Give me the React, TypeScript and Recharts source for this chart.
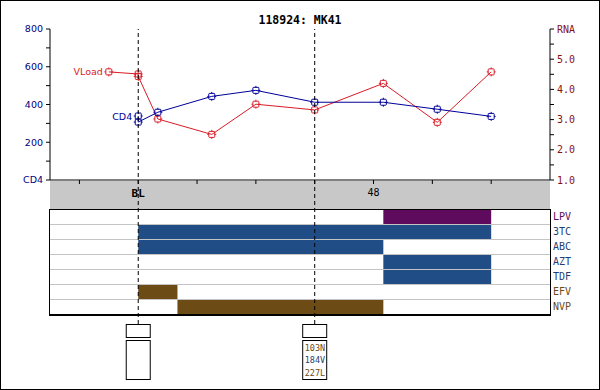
import React from 'react';
import {
  LineChart, Line, XAxis, YAxis, BarChart, Bar, Cell, ScatterChart, Scatter, ReferenceLine,
} from 'recharts';

// ---- data ----
const cd4Weeks = [0, 0, 4, 15, 24, 36, 50, 61, 72];
const cd4Values = [339, 307, 359, 443, 475, 412, 412, 375, 337];
const vlWeeks = [-6, 0, 0, 4, 15, 24, 36, 50, 61, 72];
const vlValues = [4.58, 4.51, 4.43, 3.02, 2.51, 3.51, 3.32, 4.2, 2.91, 4.58];

const drugNames = ['LPV', '3TC', 'ABC', 'AZT', 'TDF', 'EFV', 'NVP'];
const drugStart = [50, 0, 0, 50, 50, 0, 8];
const drugEnd = [72, 72, 50, 72, 72, 8, 50];
const drugClass = ['PI', 'NRTI', 'NRTI', 'NRTI', 'NRTI', 'NNRTI', 'NNRTI'];

const genoWeeks = [0, 36];
const genoMutations: string[][] = [[], ['103N', '184V', '227L']];
const genoMutClass: string[][] = [[], ['NNRTI', 'NRTI', 'NNRTI']];

const xTicks = [-12, 0, 12, 24, 36, 48, 60, 72];
const xTickLabels: Record<number, string> = { 0: 'BL', 48: '48' };
const cd4Ticks = [0, 100, 200, 300, 400, 500, 600, 700, 800];
const rnaTicks = [1, 1.5, 2, 2.5, 3, 3.5, 4, 4.5, 5, 5.5, 6];
const markerWeeks = [0, 36];

const title = '118924: MK41';

// ---- styles ----
const SANS = '"DejaVu Sans", Verdana, sans-serif';
const MONO = '"DejaVu Sans Mono", monospace';
const CD4_COLOR = '#000099';
const VL_COLOR = '#d81c26';
const LEFT_AXIS_COLOR = '#00007f';
const RIGHT_AXIS_COLOR = '#8b1010';
const classColor: Record<string, string> = {
  PI: '#5e0b5e',
  NRTI: '#214d87',
  NNRTI: '#6d4b14',
};
const classLabelColor: Record<string, string> = {
  PI: '#5e0b5e',
  NRTI: '#1f3f75',
  NNRTI: '#6d4b14',
};

const cd4Data = cd4Weeks.map((w, i) => ({ week: w, cd4: cd4Values[i] }));
const vlData = vlWeeks.map((w, i) => ({ week: w, rna: vlValues[i] }));
const drugData = drugNames.map((n, i) => ({
  name: n,
  range: [drugStart[i], drugEnd[i]],
  cls: drugClass[i],
}));
const genoData = genoWeeks.map((w, i) => ({
  week: w,
  y: 0,
  muts: genoMutations[i],
  cls: genoMutClass[i],
}));

const makeDot = (color: string, label: string) => (props: any) => {
  const { cx, cy, index } = props;
  if (cx == null || cy == null) return <g key={`d-${label}-${index}`} />;
  return (
    <g key={`d-${label}-${index}`}>
      <rect x={cx - 3} y={cy - 3} width={6} height={6} rx={0.8} fill="none" stroke={color} strokeWidth={1} />
      <line x1={cx} x2={cx} y1={cy - 4.5} y2={cy + 4.5} stroke={color} strokeWidth={1} strokeDasharray="1.5 6 1.5" />
      <line x1={cx - 4.5} x2={cx + 4.5} y1={cy} y2={cy} stroke={color} strokeWidth={1} strokeDasharray="1.5 6 1.5" />
      {index === 0 && (
        <text
          x={cx - 6}
          y={cy}
          textAnchor="end"
          dominantBaseline="central"
          fill={color}
          fontFamily={SANS}
          fontSize={9.5}
        >
          {label}
        </text>
      )}
    </g>
  );
};

const XTick = (props: any) => {
  const { x, y, payload } = props;
  const label = xTickLabels[payload.value];
  if (!label) return <g />;
  const bold = label === 'BL';
  return (
    <text
      x={x}
      y={y}
      dy="0.71em"
      textAnchor="middle"
      fill="#000"
      fontFamily={MONO}
      fontWeight={bold ? 'bold' : 'normal'}
      fontSize={bold ? 11 : 10}
    >
      {label}
    </text>
  );
};

const DrugTick = (props: any) => {
  const { x, y, payload } = props;
  const idx = drugNames.indexOf(payload.value);
  const color = classLabelColor[drugClass[idx]];
  return (
    <text x={x} y={y} textAnchor="start" dominantBaseline="central" fill={color} fontFamily={MONO} fontSize={10}>
      {payload.value}
    </text>
  );
};

const BarShape = (props: any) => {
  const { x, y, width, height, fill } = props;
  if (!width || !height) return <g />;
  const w = Math.abs(width);
  const x0 = width < 0 ? x + width : x;
  return <rect x={x0} y={y + 1} width={w} height={height - 1} fill={fill} />;
};

const RowBackground = (props: any) => {
  const { x, y, width, index } = props;
  return <line key={`bg-${index}`} x1={x} x2={x + width} y1={y + 0.5} y2={y + 0.5} stroke="#c4c4c4" strokeWidth={1} />;
};

const GenoShape = (props: any) => {
  const { cx, cy, payload } = props;
  const muts: string[] = payload.muts || [];
  const cls: string[] = payload.cls || [];
  return (
    <g>
      <rect x={cx - 12} y={cy + 0.5} width={24} height={13} fill="#fff" stroke="#000" strokeWidth={1} />
      <rect x={cx - 12} y={cy + 16.5} width={24} height={39} fill="#fff" stroke="#000" strokeWidth={1} />
      {muts.map((m, i) => (
        <text
          key={m}
          x={cx - 10}
          y={cy + 23.5 + i * 12.5}
          dominantBaseline="central"
          fill={classLabelColor[cls[i]]}
          fontFamily={MONO}
          fontSize={8.5}
        >
          {m}
        </text>
      ))}
    </g>
  );
};

const abs = (left: number, top: number): React.CSSProperties => ({ position: 'absolute', left, top });

export default function App() {
  return (
    <div style={{ position: 'absolute', left: 0, top: 0, width: 600, height: 390, background: '#fff', overflow: 'hidden' }}>
      {/* grey time band */}
      <div style={{ ...abs(50, 181), width: 500, height: 28, background: '#c8c8c8' }} />
      {/* title */}
      <div
        style={{
          ...abs(0, 13),
          width: 600,
          textAlign: 'center',
          fontFamily: MONO,
          fontWeight: 'bold',
          fontSize: 11.5,
          lineHeight: '14px',
          color: '#000',
        }}
      >
        {title}
      </div>
      {/* main chart */}
      <div style={abs(0, 0)}>
        <LineChart width={600} height={210} margin={{ top: 29, right: 0, bottom: 0, left: 0 }}>
          <XAxis
            xAxisId="b"
            type="number"
            dataKey="week"
            domain={[-18, 84]}
            ticks={xTicks}
            interval={0}
            allowDataOverflow
            height={30}
            tickSize={4}
            tickMargin={5}
            axisLine={{ stroke: '#000' }}
            tickLine={{ stroke: '#000' }}
            tick={<XTick />}
          />
          <XAxis
            xAxisId="t"
            orientation="top"
            type="number"
            domain={[-18, 84]}
            allowDataOverflow
            height={0}
            tick={false}
            tickLine={false}
            axisLine={{ stroke: '#000' }}
          />
          <YAxis
            yAxisId="cd4"
            orientation="left"
            width={50}
            type="number"
            domain={[0, 800]}
            ticks={cd4Ticks}
            interval={0}
            tickSize={4}
            tickMargin={3}
            axisLine={{ stroke: '#000' }}
            tickLine={{ stroke: '#000' }}
            tick={{ fill: LEFT_AXIS_COLOR, fontFamily: SANS, fontSize: 9.5 }}
            tickFormatter={(v: number) => (v === 0 ? 'CD4' : v % 200 === 0 ? String(v) : '')}
          />
          <YAxis
            yAxisId="rna"
            orientation="right"
            width={50}
            type="number"
            domain={[1, 6]}
            ticks={rnaTicks}
            interval={0}
            tickSize={4}
            tickMargin={3}
            axisLine={{ stroke: '#000' }}
            tickLine={{ stroke: '#000' }}
            tick={{ fill: RIGHT_AXIS_COLOR, fontFamily: MONO, fontSize: 10 }}
            tickFormatter={(v: number) => (v === 6 ? 'RNA' : Number.isInteger(v) ? v.toFixed(1) : '')}
          />
          <Line
            xAxisId="b"
            yAxisId="rna"
            data={vlData}
            dataKey="rna"
            type="linear"
            stroke={VL_COLOR}
            strokeWidth={1}
            dot={makeDot(VL_COLOR, 'VLoad')}
            activeDot={false}
            isAnimationActive={false}
          />
          <Line
            xAxisId="b"
            yAxisId="cd4"
            data={cd4Data}
            dataKey="cd4"
            type="linear"
            stroke={CD4_COLOR}
            strokeWidth={1}
            dot={makeDot(CD4_COLOR, 'CD4')}
            activeDot={false}
            isAnimationActive={false}
          />
        </LineChart>
      </div>
      {/* drug panel */}
      <div style={abs(0, 209)}>
        <BarChart
          width={600}
          height={105}
          layout="vertical"
          data={drugData}
          margin={{ top: 0, right: 0, bottom: 0, left: 50 }}
          barCategoryGap={0}
          barGap={0}
        >
          <XAxis type="number" domain={[-18, 84]} allowDataOverflow hide />
          <YAxis
            type="category"
            dataKey="name"
            orientation="right"
            width={50}
            interval={0}
            tickSize={0}
            tickMargin={3}
            axisLine={false}
            tickLine={false}
            tick={<DrugTick />}
          />
          <Bar
            dataKey="range"
            isAnimationActive={false}
            shape={<BarShape />}
            background={<RowBackground />}
          >
            {drugData.map((d) => (
              <Cell key={d.name} fill={classColor[d.cls]} />
            ))}
          </Bar>
        </BarChart>
      </div>
      {/* panel border */}
      <div
        style={{
          ...abs(49, 209),
          width: 502,
          height: 107,
          boxSizing: 'border-box',
          borderTop: '1px solid #000',
          borderLeft: '1px solid #000',
          borderRight: '1px solid #000',
          borderBottom: '2px solid #000',
        }}
      />
      {/* overlay: visit markers and genotype boxes */}
      <div style={{ ...abs(0, 0), pointerEvents: 'none' }}>
        <ScatterChart width={600} height={390} margin={{ top: 29, right: 50, bottom: 66, left: 50 }}>
          <XAxis type="number" dataKey="week" domain={[-18, 84]} allowDataOverflow hide />
          <YAxis type="number" dataKey="y" domain={[0, 1]} hide />
          {markerWeeks.map((w) => (
            <ReferenceLine key={w} x={w} stroke="#000" strokeWidth={1} strokeDasharray="4 3" />
          ))}
          <Scatter data={genoData} shape={<GenoShape />} isAnimationActive={false} />
        </ScatterChart>
      </div>
      {/* outer frame */}
      <div
        style={{
          ...abs(0, 0),
          width: 600,
          height: 390,
          boxSizing: 'border-box',
          border: '1px solid #000',
          pointerEvents: 'none',
        }}
      />
    </div>
  );
}
